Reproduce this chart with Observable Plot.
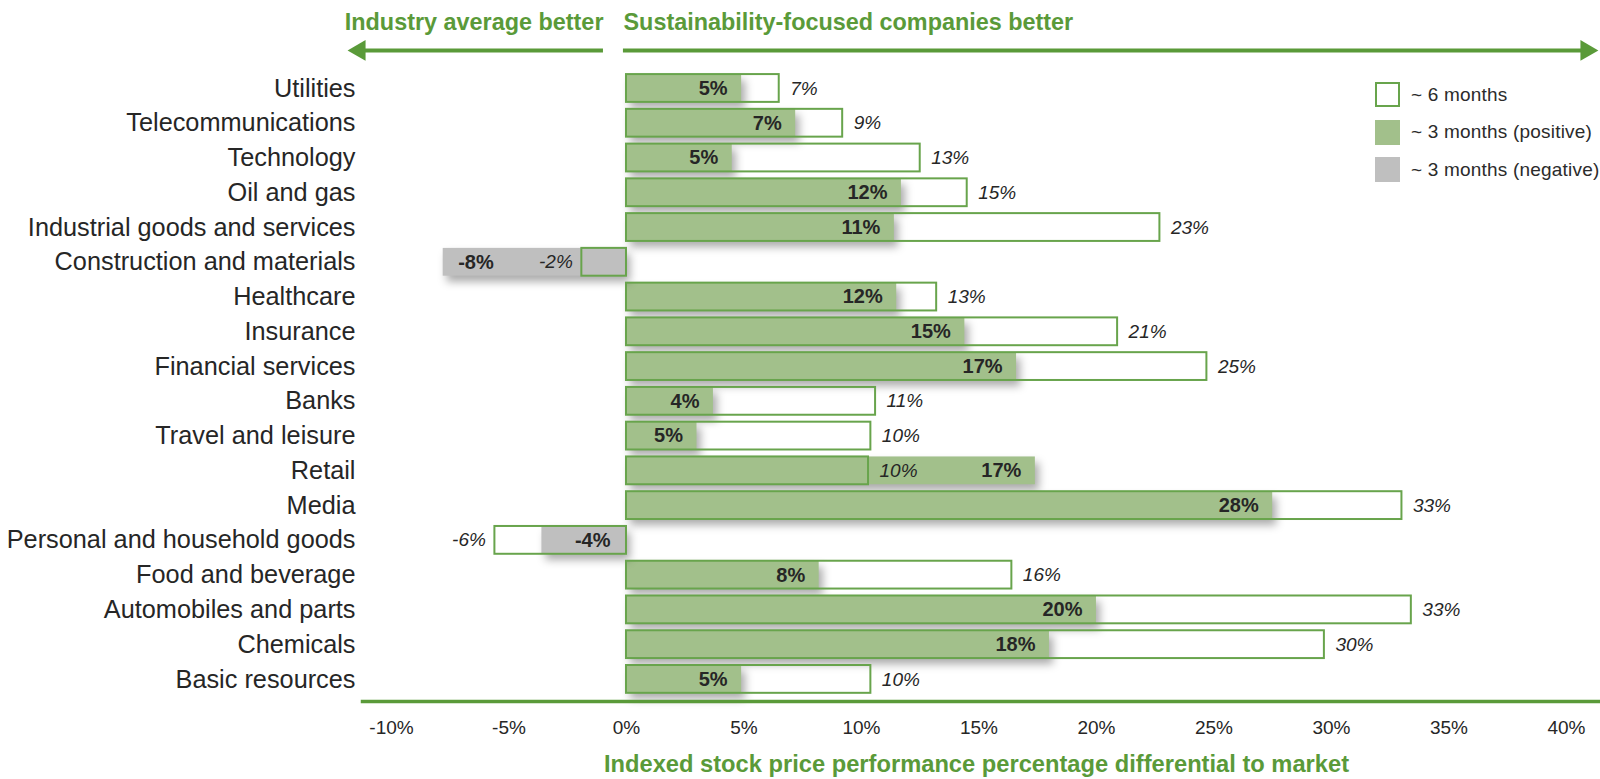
<!DOCTYPE html>
<html>
<head>
<meta charset="utf-8">
<script src="https://cdn.jsdelivr.net/npm/d3@7"></script>
<script src="https://cdn.jsdelivr.net/npm/@observablehq/plot@0.6"></script>
<style>
  html, body { margin: 0; padding: 0; background: #fff; }
  #wrap { position: relative; width: 1600px; height: 779px; }
  #legend { position: absolute; left: 1375px; top: 82px; font-family: "Liberation Sans", Arial, sans-serif; font-size: 19px; letter-spacing: 0.2px; color: #2b2b2b; }
  #legend .item { display: flex; align-items: center; height: 25px; margin-bottom: 12.5px; white-space: nowrap; }
  #legend .sw { width: 25px; height: 25px; box-sizing: border-box; margin-right: 11px; }
</style>
</head>
<body>
<div id="wrap"><div id="legend"></div></div>
<script>
// ---- data ----
const categories = ["Utilities","Telecommunications","Technology","Oil and gas","Industrial goods and services","Construction and materials","Healthcare","Insurance","Financial services","Banks","Travel and leisure","Retail","Media","Personal and household goods","Food and beverage","Automobiles and parts","Chemicals","Basic resources"];
const sixMonths   = [6.5, 9.2, 12.5, 14.5, 22.7, -1.9, 13.2, 20.9, 24.7, 10.6, 10.4, 10.3, 33.0, -5.6, 16.4, 33.4, 29.7, 10.4];
const threeMonths = [4.9, 7.2, 4.5, 11.7, 11.4, -7.8, 11.5, 14.4, 16.6, 3.7, 3.0, 17.4, 27.5, -3.6, 8.2, 20.0, 18.0, 4.9];
const sixLabels   = [7, 9, 13, 15, 23, -2, 13, 21, 25, 11, 10, 10, 33, -6, 16, 33, 30, 10];
const threeLabels = [5, 7, 5, 12, 11, -8, 12, 15, 17, 4, 5, 17, 28, -4, 8, 20, 18, 5];
const xTicks = [-10, -5, 0, 5, 10, 15, 20, 25, 30, 35, 40];
const xDomain = [-11.66, 41.45];
const headerLeft = "Industry average better";
const headerRight = "Sustainability-focused companies better";
const axisTitle = "Indexed stock price performance percentage differential to market";
const legendItems = ["~ 6 months", "~ 3 months (positive)", "~ 3 months (negative)"];

// ---- styles ----
const titleGreen = "#5a9a39";
const outlineGreen = "#68a44c";
const fillGreen = "#a2c08b";
const fillGray = "#bfbfbf";
const textColor = "#262626";
const bodyFont = "'Liberation Sans', Arial, sans-serif";

const rows = categories.map((c, i) => ({cat: c, six: sixMonths[i], three: threeMonths[i], sixL: sixLabels[i], threeL: threeLabels[i]}));
const shadow = "drop-shadow(4px 6px 4px rgba(0,0,0,0.33))";
const first = () => categories[0];

const chart = Plot.plot({
  width: 1600,
  height: 779,
  marginLeft: 352,
  marginRight: 0,
  marginTop: 70,
  marginBottom: 78,
  x: {domain: xDomain, axis: null},
  y: {domain: categories, axis: null, paddingInner: 0.2, paddingOuter: 0.1, insetTop: 0.6, insetBottom: 4.7, round: false},
  style: {background: "white", overflow: "visible"},
  marks: [
    // header
    Plot.text([headerLeft], {x: 0, frameAnchor: "top", lineAnchor: "middle", dy: -48.5, dx: -23, textAnchor: "end", text: d => d, fill: titleGreen, fontWeight: "bold", fontSize: 23.4, fontFamily: bodyFont}),
    Plot.text([headerRight], {x: 0, frameAnchor: "top", lineAnchor: "middle", dy: -48.5, dx: -3, textAnchor: "start", text: d => d, fill: titleGreen, fontWeight: "bold", fontSize: 23.4, fontFamily: bodyFont}),
    Plot.ruleY([0], {y: first, x1: -0.98, x2: -11.2, dy: -38, stroke: titleGreen, strokeWidth: 4}),
    Plot.ruleY([0], {y: first, x1: -0.13, x2: 40.9, dy: -38, stroke: titleGreen, strokeWidth: 4}),
    Plot.dot([0], {x: -11.36, y: first, dy: -38, symbol: "triangle", r: 7.7, rotate: -90, fill: titleGreen, stroke: "none"}),
    Plot.dot([0], {x: 40.85, y: first, dy: -38, symbol: "triangle", r: 7.7, rotate: 90, fill: titleGreen, stroke: "none"}),
    // bars
    Plot.barX(rows, {y: "cat", x1: 0, x2: "six", fill: "white"}),
    Plot.barX(rows, {filter: d => d.three >= 0, y: "cat", x1: 0, x2: "three", fill: fillGreen, imageFilter: shadow}),
    Plot.barX(rows, {filter: d => d.three < 0, y: "cat", x1: 0, x2: "three", fill: fillGray, imageFilter: shadow}),
    Plot.barX(rows, {y: "cat", x1: 0, x2: "six", fill: "none", stroke: outlineGreen, strokeWidth: 2}),
    // value labels (3 months, bold)
    Plot.text(rows, {filter: d => d.three >= 0, y: "cat", x: "three", text: d => d.threeL + "%", textAnchor: "end", dx: -14, fontWeight: "bold", fontSize: 20, fontFamily: bodyFont, fill: textColor}),
    Plot.text(rows, {filter: d => d.three < 0 && Math.abs(d.three) > Math.abs(d.six), y: "cat", x: "three", text: d => d.threeL + "%", textAnchor: "start", dx: 15, fontWeight: "bold", fontSize: 20, fontFamily: bodyFont, fill: textColor}),
    Plot.text(rows, {filter: d => d.three < 0 && Math.abs(d.three) <= Math.abs(d.six), y: "cat", x: 0, text: d => d.threeL + "%", textAnchor: "end", dx: -16, fontWeight: "bold", fontSize: 20, fontFamily: bodyFont, fill: textColor}),
    // value labels (6 months, italic)
    Plot.text(rows, {filter: d => d.six >= 0, y: "cat", x: "six", text: d => d.sixL + "%", textAnchor: "start", dx: 11, fontStyle: "italic", fontSize: 19, fontFamily: bodyFont, fill: textColor}),
    Plot.text(rows, {filter: d => d.six < 0, y: "cat", x: "six", text: d => d.sixL + "%", textAnchor: "end", dx: -9, fontStyle: "italic", fontSize: 19, fontFamily: bodyFont, fill: textColor}),
    // category labels
    Plot.text(categories, {y: d => d, text: d => d, frameAnchor: "left", textAnchor: "end", dx: 3, fontSize: 25.3, fontFamily: bodyFont, fill: textColor}),
    // x axis
    Plot.frame({anchor: "bottom", insetLeft: 10, stroke: titleGreen, strokeWidth: 3.5}),
    Plot.text(xTicks, {x: d => d, frameAnchor: "bottom", lineAnchor: "middle", dy: 26.5, text: d => d + "%", fontSize: 19, fontFamily: bodyFont, fill: textColor}),
    Plot.text([axisTitle], {frameAnchor: "bottom", lineAnchor: "middle", dy: 63, text: d => d, fill: titleGreen, fontWeight: "bold", fontSize: 23.7, fontFamily: bodyFont})
  ]
});
document.getElementById("wrap").prepend(chart);

// legend
const legend = document.getElementById("legend");
const swatchStyles = [
  `background:#fff;border:2px solid ${outlineGreen};`,
  `background:${fillGreen};`,
  `background:${fillGray};`
];
legendItems.forEach((t, i) => {
  const item = document.createElement("div");
  item.className = "item";
  const sw = document.createElement("div");
  sw.className = "sw";
  sw.style.cssText = swatchStyles[i];
  const lab = document.createElement("span");
  lab.textContent = t;
  item.append(sw, lab);
  legend.append(item);
});
</script>
</body>
</html>
